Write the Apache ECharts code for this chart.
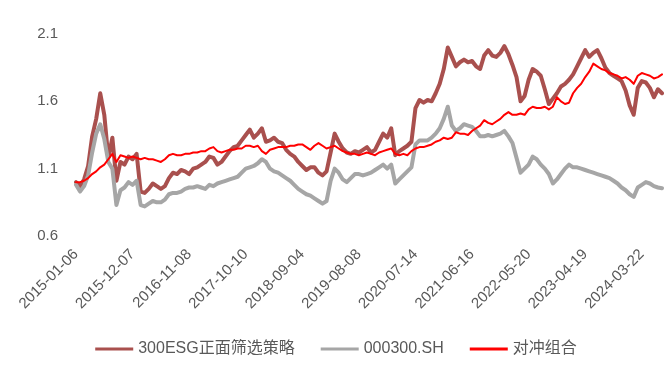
<!DOCTYPE html>
<html>
<head>
<meta charset="utf-8">
<script src="https://cdn.jsdelivr.net/npm/echarts@6/dist/echarts.min.js"></script>
<style>
html,body{margin:0;padding:0;background:#fff;}
#c{width:672px;height:366px;}
</style>
</head>
<body>
<div id="c"></div>
<script>
// Tick labels shown on the x axis (one every 14 samples, each sample ~16 trading days)
const tickLabels = ['2015-01-06','2015-12-07','2016-11-08','2017-10-10','2018-09-04','2019-08-08','2020-07-14','2021-06-16','2022-05-20','2023-04-19','2024-03-22'];
const samplesPerTick = 14;

const seriesNames = ['300ESG正面筛选策略', '000300.SH', '对冲组合'];

const esg = [
1.00,0.97,1.02,1.12,1.34,1.47,1.66,1.50,1.18,1.33,
1.01,1.15,1.13,1.19,1.17,1.21,0.93,0.92,0.95,0.99,
0.97,0.95,0.97,1.03,1.07,1.06,1.09,1.08,1.06,1.10,
1.11,1.13,1.15,1.19,1.18,1.13,1.15,1.19,1.23,1.26,
1.27,1.31,1.35,1.39,1.33,1.36,1.40,1.30,1.31,1.33,
1.30,1.29,1.24,1.21,1.19,1.15,1.12,1.09,1.11,1.11,
1.07,1.05,1.08,1.22,1.36,1.30,1.25,1.22,1.21,1.23,
1.22,1.24,1.26,1.22,1.24,1.30,1.36,1.33,1.40,1.20,
1.23,1.25,1.27,1.30,1.55,1.61,1.59,1.61,1.60,1.66,
1.73,1.84,2.00,1.93,1.86,1.89,1.91,1.89,1.90,1.86,
1.84,1.94,1.98,1.94,1.93,1.96,2.01,1.95,1.87,1.78,
1.60,1.64,1.76,1.84,1.82,1.79,1.69,1.58,1.62,1.66,
1.71,1.73,1.76,1.80,1.86,1.92,1.98,1.93,1.96,1.98,
1.92,1.85,1.81,1.79,1.77,1.75,1.68,1.57,1.50,1.70,
1.75,1.74,1.70,1.63,1.69,1.66
];

const hs300 = [
0.98,0.93,0.97,1.05,1.22,1.36,1.43,1.32,1.15,1.10,
0.83,0.94,0.96,1.00,0.98,1.01,0.83,0.82,0.84,0.86,
0.85,0.85,0.87,0.91,0.92,0.92,0.93,0.95,0.96,0.96,
0.97,0.96,0.95,0.98,0.97,0.99,1.00,1.01,1.02,1.03,
1.04,1.07,1.10,1.11,1.12,1.14,1.17,1.15,1.10,1.08,
1.07,1.05,1.03,1.01,0.98,0.95,0.93,0.91,0.90,0.88,
0.86,0.84,0.86,1.01,1.10,1.07,1.02,1.00,1.03,1.06,
1.06,1.05,1.06,1.07,1.09,1.11,1.13,1.10,1.13,0.99,
1.02,1.05,1.08,1.11,1.28,1.31,1.31,1.31,1.33,1.36,
1.40,1.47,1.56,1.42,1.38,1.40,1.43,1.42,1.41,1.38,
1.34,1.34,1.35,1.34,1.35,1.36,1.38,1.34,1.29,1.18,
1.07,1.10,1.13,1.19,1.17,1.13,1.10,1.06,0.99,1.02,
1.06,1.10,1.13,1.11,1.11,1.10,1.09,1.08,1.07,1.06,
1.05,1.04,1.03,1.01,0.99,0.96,0.94,0.91,0.89,0.96,
0.98,1.00,0.99,0.97,0.96,0.955
];

const hedge = [
1.00,1.00,1.01,1.03,1.06,1.08,1.11,1.13,1.17,1.21,
1.15,1.20,1.19,1.18,1.19,1.18,1.17,1.18,1.17,1.17,
1.16,1.15,1.17,1.20,1.21,1.20,1.20,1.21,1.21,1.22,
1.22,1.23,1.23,1.25,1.26,1.23,1.22,1.23,1.24,1.24,
1.25,1.25,1.27,1.27,1.26,1.27,1.23,1.21,1.24,1.25,
1.26,1.26,1.26,1.27,1.27,1.28,1.28,1.26,1.24,1.27,
1.29,1.27,1.25,1.26,1.27,1.25,1.23,1.22,1.21,1.21,
1.20,1.21,1.22,1.21,1.20,1.22,1.23,1.24,1.25,1.21,
1.20,1.21,1.20,1.23,1.25,1.26,1.26,1.27,1.28,1.30,
1.31,1.33,1.32,1.33,1.37,1.36,1.36,1.35,1.38,1.40,
1.42,1.46,1.44,1.43,1.45,1.47,1.50,1.52,1.50,1.50,
1.51,1.50,1.54,1.56,1.55,1.55,1.56,1.54,1.56,1.63,
1.60,1.58,1.59,1.66,1.70,1.73,1.78,1.82,1.88,1.86,
1.84,1.83,1.81,1.80,1.79,1.77,1.78,1.76,1.73,1.79,
1.81,1.80,1.79,1.77,1.78,1.80
];

const categories = esg.map((_, i) => String(i));

const chart = echarts.init(document.getElementById('c'), null, {renderer: 'canvas'});
const txt = '#595959';
const fontFam = '"Liberation Sans", "Noto Sans CJK SC", sans-serif';

chart.setOption({
  animation: false,
  backgroundColor: '#ffffff',
  grid: {left: 76, right: 10, top: 34, bottom: 130, containLabel: false},
  legend: {
    top: 336,
    left: 'center',
    itemWidth: 38,
    itemHeight: 3,
    itemGap: 26,
    textStyle: {color: txt, fontSize: 16, fontFamily: fontFam},
    data: seriesNames.map(n => ({name: n, icon: 'rect'}))
  },
  xAxis: {
    type: 'category',
    boundaryGap: false,
    data: categories,
    axisLine: {show: false},
    axisTick: {show: false},
    splitLine: {show: false},
    axisLabel: {
      interval: samplesPerTick - 1,
      rotate: 45,
      margin: 16,
      color: txt,
      fontSize: 15,
      fontFamily: fontFam,
      formatter: (v, idx) => (idx % samplesPerTick === 0 ? (tickLabels[idx / samplesPerTick] || '') : '')
    }
  },
  yAxis: {
    type: 'value',
    min: 0.6,
    max: 2.1,
    interval: 0.5,
    axisLine: {show: false},
    axisTick: {show: false},
    splitLine: {show: false},
    axisLabel: {
      margin: 18,
      color: txt,
      fontSize: 15,
      fontFamily: fontFam,
      formatter: v => v.toFixed(1)
    }
  },
  series: [
    {name: seriesNames[0], type: 'line', data: esg, showSymbol: false, symbol: 'none',
     lineStyle: {color: '#A9504E', width: 4, join: 'round', cap: 'round'}, itemStyle: {color: '#A9504E'}},
    {name: seriesNames[1], type: 'line', data: hs300, showSymbol: false, symbol: 'none',
     lineStyle: {color: '#A6A6A6', width: 4, join: 'round', cap: 'round'}, itemStyle: {color: '#A6A6A6'}},
    {name: seriesNames[2], type: 'line', data: hedge, showSymbol: false, symbol: 'none',
     lineStyle: {color: '#FF0000', width: 2, join: 'round', cap: 'round'}, itemStyle: {color: '#FF0000'}}
  ]
});
</script>
</body>
</html>
